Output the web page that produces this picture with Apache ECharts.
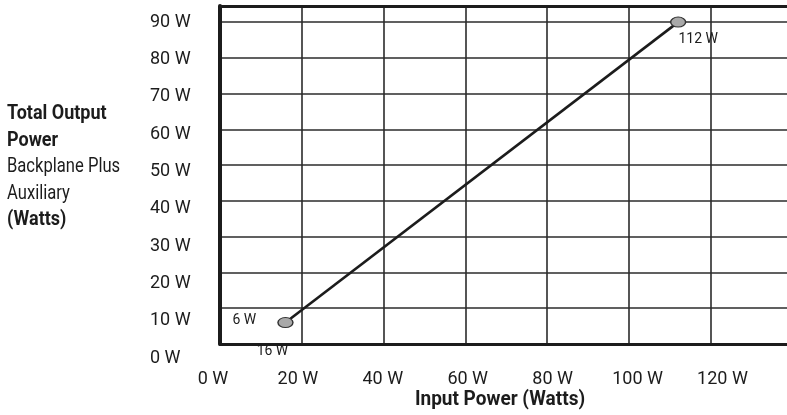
<!DOCTYPE html>
<html><head><meta charset="utf-8">
<script src="https://cdn.jsdelivr.net/npm/echarts@6/dist/echarts.min.js"></script>
<style>html,body{margin:0;padding:0;background:#fff}#c{width:787px;height:415px}</style>
</head><body><div id="c"></div>
<script>
// ---- data ----
const xTicks = [0, 20, 40, 60, 80, 100, 120];          // input power tick labels (W)
const yTicks = [0, 10, 20, 30, 40, 50, 60, 70, 80, 90]; // output power tick labels (W)
const inputPower = [16, 112];   // W
const outputPower = [6, 90];    // W
const outputLabels = ['6 W', ''];
const inputLabels = ['16 W', '112 W'];
const yTitleLines = [['Total Output', true], ['Power', true], ['Backplane Plus', false], ['Auxiliary', false], ['(Watts)', true]];
const xTitle = 'Input Power (Watts)';

const FONT = 'Roboto,"DejaVu Sans Condensed",sans-serif';
const INK = '#1c1c1c';
const chart = echarts.init(document.getElementById('c'), null, {renderer: 'canvas'});

const pts = inputPower.map((x, i) => [x, outputPower[i]]);

const gridLine = {show: true, lineStyle: {color: '#2b2b2b', width: 1.6}};
const option = {
  backgroundColor: '#fff',
  animation: false,
  grid: [
    {left: 220, right: -20, top: 6, bottom: 71, outerBoundsMode: 'none'},
    {left: 213, right: 64.5, top: 22, bottom: 57, outerBoundsMode: 'none'}
  ],
  xAxis: [
    {gridIndex: 0, type: 'value', min: 0, max: 143.5, interval: 20, position: 'bottom',
     axisLine: {show: true, lineStyle: {color: INK, width: 3}}, axisTick: {show: false},
     axisLabel: {show: false}, splitLine: gridLine},
    {gridIndex: 0, type: 'value', min: 0, max: 143.5, interval: 20, position: 'top',
     axisLine: {show: true, onZero: false, lineStyle: {color: INK, width: 3}}, axisTick: {show: false},
     axisLabel: {show: false}, splitLine: {show: false}},
    {gridIndex: 1, type: 'value', min: xTicks[0], max: xTicks[xTicks.length - 1], interval: xTicks[1] - xTicks[0],
     axisLine: {show: false}, axisTick: {show: false}, splitLine: {show: false},
     axisLabel: {margin: 12, fontFamily: FONT, fontSize: 18, color: INK, formatter: v => v + ' W'}}
  ],
  yAxis: [
    {gridIndex: 0, type: 'value', min: 0, max: 94.5, interval: 10,
     axisLine: {show: true, lineStyle: {color: INK, width: 4}}, axisTick: {show: false},
     axisLabel: {show: false}, splitLine: gridLine},
    {gridIndex: 1, type: 'value', min: yTicks[0], max: yTicks[yTicks.length - 1], interval: yTicks[1] - yTicks[0],
     axisLine: {show: false}, axisTick: {show: false}, splitLine: {show: false},
     axisLabel: {margin: 63, align: 'left', fontFamily: FONT, fontSize: 18, color: INK, formatter: v => v + ' W'}}
  ],
  graphic: yTitleLines.map((l, i) => ({
    type: 'text', x: 7, y: 114 + i * 26.5, scaleX: l[1] ? 0.9 : 0.83,
    style: {text: l[0], font: (l[1] ? 'bold ' : '') + '20px ' + FONT, fill: INK, verticalAlign: 'middle'}
  })).concat([{
    type: 'text', x: 500, y: 400, scaleX: 0.95,
    style: {text: xTitle, font: 'bold 20px ' + FONT, fill: INK, align: 'center', verticalAlign: 'middle'}
  }]),
  series: [
    {type: 'line', xAxisIndex: 0, yAxisIndex: 0, data: pts.map((p, i) => ({
        value: p,
        label: i === 0
          ? {show: true, formatter: outputLabels[0], position: 'left', distance: 21, offset: [0, -2]}
          : {show: true, formatter: inputLabels[1], position: 'inside', offset: [20, 17]}
      })),
     symbol: 'circle', symbolSize: [15, 10],
     itemStyle: {color: '#a9a9a9', borderColor: '#333', borderWidth: 1.2},
     lineStyle: {color: INK, width: 2.6},
     label: {fontFamily: FONT, fontSize: 14, color: INK, textBorderWidth: 0},
     z: 5},
    {type: 'scatter', xAxisIndex: 0, yAxisIndex: 0, data: [pts[0]], symbol: 'circle', symbolSize: 1,
     itemStyle: {opacity: 0},
     label: {show: true, formatter: inputLabels[0], position: 'inside', offset: [-13, 28.5], fontFamily: FONT, fontSize: 14, color: INK, opacity: 1, textBorderWidth: 0},
     z: 6}
  ]
};
chart.setOption(option);
</script></body></html>
